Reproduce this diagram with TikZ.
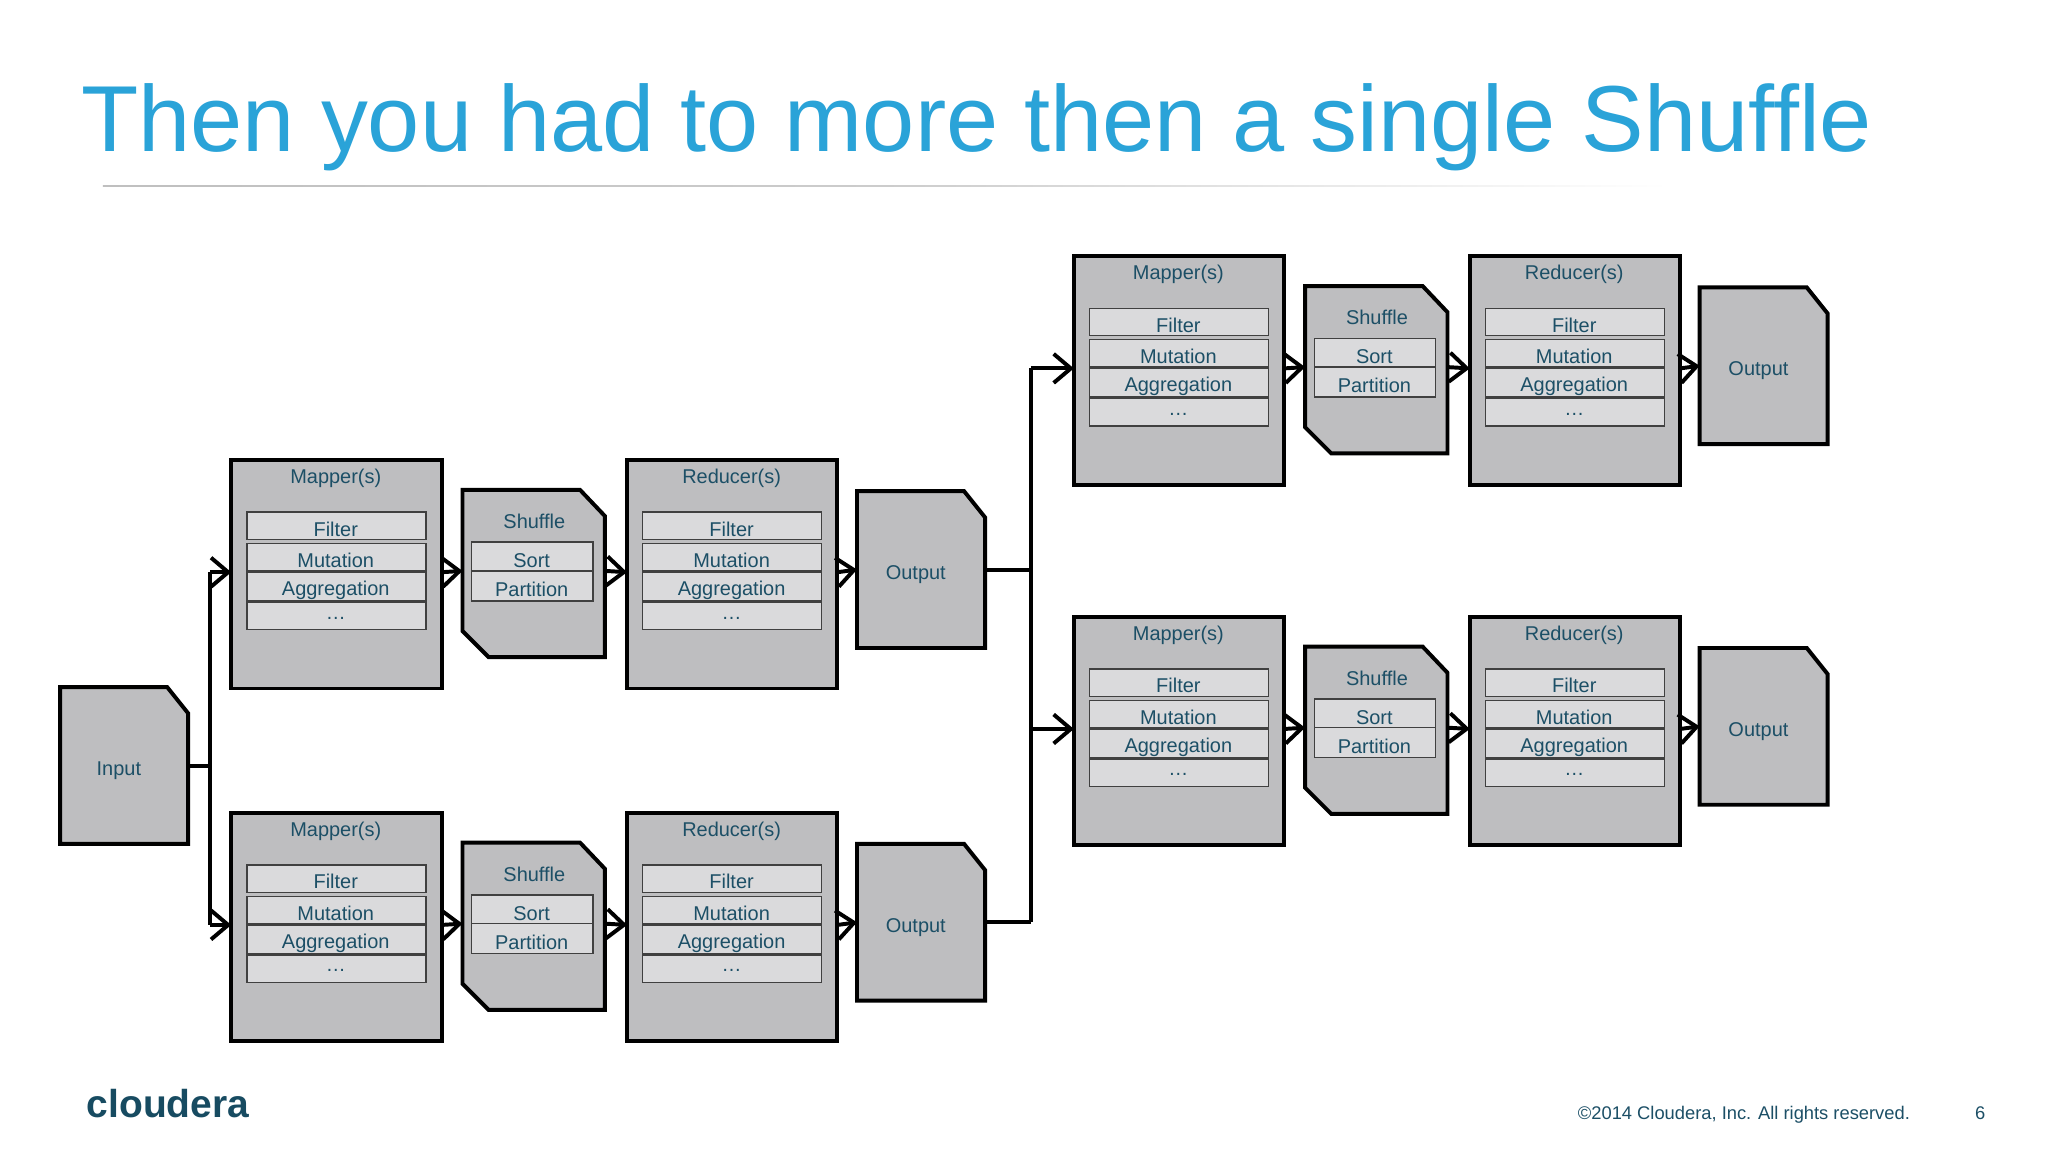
\documentclass[tikz,border=0pt]{standalone}
\usepackage{fontspec}
\setmainfont{Liberation Sans}
\usetikzlibrary{arrows.meta}
\definecolor{txt}{HTML}{1C4F66}
\definecolor{ttl}{HTML}{2AA3D8}
\definecolor{boxg}{HTML}{BEBEC0}
\definecolor{rowg}{HTML}{DADADC}
\definecolor{logo}{HTML}{174B61}
\tikzset{
  boxline/.style={draw=black,line width=0.85pt,fill=boxg,line join=miter},
  rowline/.style={draw=black!75,line width=0.3pt,fill=rowg},
  lbl/.style={text=txt,font=\fontsize{4.3}{5}\selectfont,inner sep=0pt},
  conn/.style={draw=black,line width=0.85pt,-{Straight Barb[length=1.3mm,width=2.2mm,line width=0.85pt]}},
  plain/.style={draw=black,line width=0.85pt}
}
\newcommand\procbox[4]{%
  \draw[boxline] (#2,#3) rectangle ({#2+161},{#3+175});
  \node[lbl] (#1-t) at ({#2+80},{#3+14}) {#4};
  \draw[rowline] ({#2+12},{#3+40}) rectangle ({#2+149},{#3+61});
  \draw[rowline] ({#2+12},{#3+64}) rectangle ({#2+149},{#3+85});
  \draw[rowline] ({#2+12},{#3+86}) rectangle ({#2+149},{#3+108});
  \draw[rowline] ({#2+12},{#3+109}) rectangle ({#2+149},{#3+130});
  \node[lbl] (#1-a) at ({#2+80},{#3+53}) {Filter};
  \node[lbl] (#1-b) at ({#2+80},{#3+77}) {Mutation};
  \node[lbl] (#1-c) at ({#2+80},{#3+100}) {Aggregation};
  \node[lbl] (#1-d) at ({#2+80},{#3+121}) {\dots};
  \coordinate (#1-in) at (#2,{#3+86});
  \coordinate (#1-out) at ({#2+161},{#3+86});
}
\newcommand\shufbox[3]{%
  \draw[boxline] (#2,#3) -- ({#2+90},#3) -- ({#2+109},{#3+20}) -- ({#2+109},{#3+128}) -- ({#2+20},{#3+128}) -- (#2,{#3+108}) -- cycle;
  \node[lbl] (#1-t) at ({#2+55},{#3+24}) {Shuffle};
  \draw[rowline] ({#2+7},{#3+40}) rectangle ({#2+100},{#3+62});
  \draw[rowline] ({#2+7},{#3+62}) rectangle ({#2+100},{#3+85});
  \node[lbl] (#1-a) at ({#2+53},{#3+54}) {Sort};
  \node[lbl] (#1-b) at ({#2+53},{#3+76}) {Partition};
  \coordinate (#1-in) at (#2,{#3+62});
  \coordinate (#1-out) at ({#2+109},{#3+62});
}
\newcommand\docbox[4]{%
  \draw[boxline] (#2,#3) -- ({#2+82},#3) -- ({#2+98},{#3+20}) -- ({#2+98},{#3+120}) -- (#2,{#3+120}) -- cycle;
  \node[lbl] (#1-t) at ({#2+45},{#3+64}) {#4};
  \coordinate (#1-in) at (#2,{#3+60});
  \coordinate (#1-out) at ({#2+98},{#3+60});
}
\begin{document}
\begin{tikzpicture}[x=0.01cm,y=-0.01cm]
\useasboundingbox[fill=white] (0,0) rectangle (1552,873);
\node[anchor=base west,text=ttl,font=\fontsize{20.2}{24}\selectfont,inner sep=0pt] (title) at (61,115) {Then you had to more then a single Shuffle};
\shade[left color=black!25,right color=white,middle color=black!20] (78,140.5) rectangle (1265,141.5);
\begin{scope}[scale=0.99]
% left part
\docbox{inp}{46}{526}{Input}
\procbox{m1}{177}{352}{Mapper(s)}
\shufbox{s1}{354}{375}
\procbox{r1}{480}{352}{Reducer(s)}
\docbox{o1}{656}{376}{Output}
\procbox{m2}{177}{622}{Mapper(s)}
\shufbox{s2}{354}{645}
\procbox{r2}{480}{622}{Reducer(s)}
\docbox{o2}{656}{646}{Output}
% right part
\procbox{m3}{822}{196}{Mapper(s)}
\shufbox{s3}{999}{219}
\procbox{r3}{1125}{196}{Reducer(s)}
\docbox{o3}{1301}{220}{Output}
\procbox{m4}{822}{472}{Mapper(s)}
\shufbox{s4}{999}{495}
\procbox{r4}{1125}{472}{Reducer(s)}
\docbox{o4}{1301}{496}{Output}
% connectors
\coordinate (j1) at (161,586);
\draw[plain] (inp-out) -- (j1);
\draw[plain] (j1 |- m1-in) -- (j1 |- m2-in);
\draw[conn] (j1 |- m1-in) -- (m1-in);
\draw[conn] (j1 |- m2-in) -- (m2-in);
\foreach \a/\b in {m1/s1,s1/r1,r1/o1,m2/s2,s2/r2,r2/o2,m3/s3,s3/r3,r3/o3,m4/s4,s4/r4,r4/o4}
  \draw[conn] (\a-out) -- (\b-in);
\coordinate (j2) at (789,500);
\draw[plain] (o1-out) -- (j2 |- o1-out);
\draw[plain] (o2-out) -- (j2 |- o2-out);
\draw[plain] (j2 |- m3-in) -- (j2 |- o2-out);
\draw[conn] (j2 |- m3-in) -- (m3-in);
\draw[conn] (j2 |- m4-in) -- (m4-in);
\end{scope}
% footer
\node[anchor=base west,text=logo,font=\bfseries\fontsize{8.4}{10}\selectfont,inner sep=0pt] (logo) at (65,847) {cloudera};
\node[anchor=base west,text=txt,font=\fontsize{3.95}{5}\selectfont,inner sep=0pt] (copy) at (1195,848) {©2014 Cloudera, Inc. All rights reserved.};
\node[anchor=base west,text=txt,font=\fontsize{3.95}{5}\selectfont,inner sep=0pt] (pg) at (1496,848) {6};
\end{tikzpicture}
\end{document}
